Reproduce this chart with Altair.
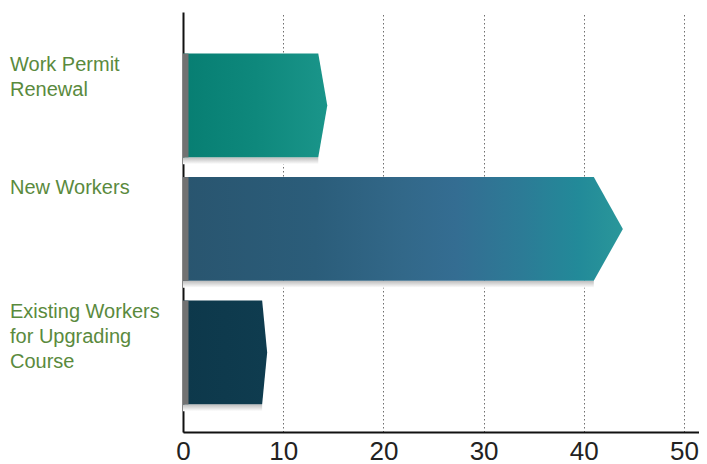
import altair as alt
import pandas as pd

# ---- data ----
labels = ["Work Permit\nRenewal", "New Workers", "Existing Workers\nfor Upgrading\nCourse"]
body_end = [13.5, 41.0, 7.9]   # where the flat part of each bar ends
tip = [14.4, 43.9, 8.4]        # arrow tip value
ticks = [0, 10, 20, 30, 40, 50]

gradients = [
    [("#077e72", 0.0), ("#0e887c", 0.5), ("#1a958a", 1.0)],
    [("#29556f", 0.0), ("#2b5d7a", 0.3), ("#326889", 0.5), ("#346d92", 0.62),
     ("#2c7b96", 0.77), ("#228a99", 0.9), ("#2a979a", 1.0)],
    [("#0d384b", 0.0), ("#0f3c4f", 1.0)],
]

half = 0.42      # half bar thickness (in slot units)
strip = 0.55     # grey left strip width
shadow = 0.055   # shadow depth

pts = []
for i, (e, t) in enumerate(zip(body_end, tip)):
    pts.append({"bar": i, "y": i - half, "x": e})
    pts.append({"bar": i, "y": i, "x": t})
    pts.append({"bar": i, "y": i + half, "x": e})
pts = pd.DataFrame(pts)

bars = pd.DataFrame({
    "bar": list(range(len(labels))),
    "label": labels,
    "end": body_end,
})
bars["top"] = bars["bar"] - half
bars["bot"] = bars["bar"] + half
bars["shadow_bot"] = bars["bot"] + shadow
bars["zero"] = 0.0
bars["strip"] = strip

xscale = alt.Scale(domain=[0, 51.5], nice=False, zero=True)
yscale = alt.Scale(domain=[-0.757, 2.644], reverse=True, nice=False, zero=False)

xaxis = alt.Axis(values=ticks, title=None, grid=True, gridDash=[1.5, 2.5],
                 gridColor="#6f6f6f", gridWidth=1, ticks=False, domainColor="#111111",
                 domainWidth=2, labelFontSize=26, labelColor="#222222",
                 labelFont="Liberation Sans", labelPadding=6, labelFlush=False)
yaxis = alt.Axis(title=None, labels=False, ticks=False, grid=False,
                 domainColor="#111111", domainWidth=2)

layers = []

# shadows
shadow_layer = alt.Chart(bars).mark_rect(
    color=alt.Gradient(gradient="linear", x1=0, x2=0, y1=0, y2=1,
                       stops=[alt.GradientStop(color="#bcbcbc", offset=0),
                              alt.GradientStop(color="#ffffff", offset=1)])
).encode(
    x=alt.X("zero:Q", scale=xscale, axis=xaxis),
    x2="end:Q",
    y=alt.Y("bot:Q", scale=yscale, axis=yaxis),
    y2="shadow_bot:Q",
)
layers.append(shadow_layer)

for i, g in enumerate(gradients):
    stops = [alt.GradientStop(color=c, offset=o) for c, o in g]
    area = alt.Chart(pts).transform_filter(alt.datum.bar == i).mark_area(
        orient="horizontal",
        color=alt.Gradient(gradient="linear", x1=0, x2=1, y1=0, y2=0, stops=stops),
    ).encode(
        y=alt.Y("y:Q", scale=yscale, axis=yaxis),
        x=alt.X("x:Q", scale=xscale, axis=xaxis),
        x2=alt.datum(0),
    )
    layers.append(area)

strip_layer = alt.Chart(bars).mark_rect(color="#727272").encode(
    x=alt.X("zero:Q", scale=xscale, axis=xaxis),
    x2="strip:Q",
    y=alt.Y("top:Q", scale=yscale, axis=yaxis),
    y2="bot:Q",
)
layers.append(strip_layer)

text_layer = alt.Chart(bars).mark_text(
    align="left", baseline="top", lineBreak="\n", fontSize=20, lineHeight=25,
    color="#5a8a3d", font="Liberation Sans", dy=1
).encode(
    x=alt.value(-173),
    y=alt.Y("top:Q", scale=yscale, axis=yaxis),
    text="label:N",
)
layers.append(text_layer)

chart = alt.layer(*layers).properties(
    width=516, height=420,
    background="white",
    autosize=alt.AutoSizeParams(type="none"),
    padding={"left": 175, "top": 4, "right": 0, "bottom": 32},
).configure_view(stroke=None)

chart.save("out.html", embed_options={"renderer": "svg", "actions": False})
